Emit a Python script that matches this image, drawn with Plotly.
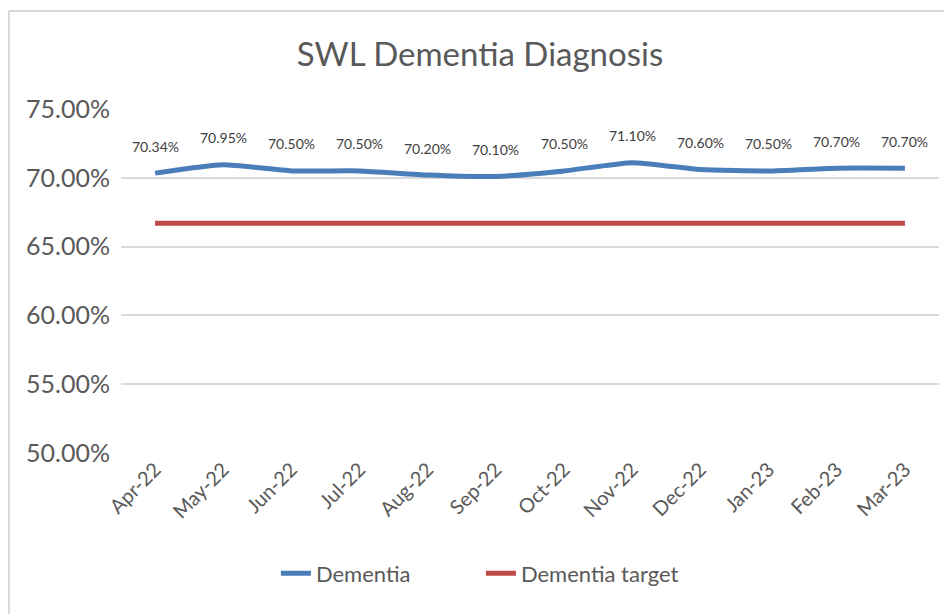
import plotly.graph_objects as go

months = ["Apr-22", "May-22", "Jun-22", "Jul-22", "Aug-22", "Sep-22",
          "Oct-22", "Nov-22", "Dec-22", "Jan-23", "Feb-23", "Mar-23"]
dementia = [0.7034, 0.7095, 0.7050, 0.7050, 0.7020, 0.7010,
            0.7050, 0.7110, 0.7060, 0.7050, 0.7070, 0.7070]
target = [0.667] * 12
y_ticks = [0.50, 0.55, 0.60, 0.65, 0.70, 0.75]

BLUE = "#4A7EBB"
RED = "#BE4B48"
TEXT = "#595959"
FONT = "Lato, 'Open Sans', sans-serif"

fig = go.Figure()
fig.add_trace(go.Scatter(
    x=months, y=dementia, name="Dementia", mode="lines",
    line=dict(color=BLUE, width=5, shape="spline", smoothing=0.5),
))
fig.add_trace(go.Scatter(
    x=months, y=target, name="Dementia target", mode="lines",
    line=dict(color=RED, width=5),
))

# data labels above the Dementia points
for m, v in zip(months, dementia):
    fig.add_annotation(x=m, y=v, text=f"{v * 100:.2f}%", showarrow=False,
                       yshift=27, font=dict(size=14, color="#404040", family=FONT))

# light grey chart border (left and top edges visible)
border = dict(color="#D9D9D9", width=2)
fig.add_shape(type="line", xref="paper", yref="paper",
              x0=-0.137, x1=-0.137, y0=-0.5, y1=1.285, line=border)
fig.add_shape(type="line", xref="paper", yref="paper",
              x0=-0.137, x1=1.05, y0=1.285, y1=1.285, line=border)

# the page body has an 8px margin, so the figure is 8px smaller
fig.update_layout(
    width=944, height=606,
    margin=dict(l=113, r=13, t=101, b=161),
    paper_bgcolor="white", plot_bgcolor="white",
    font=dict(family=FONT, color=TEXT),
    title=dict(text="SWL Dementia Diagnosis", x=0.5, xanchor="center",
               y=0.923, yanchor="middle",
               font=dict(size=33, color=TEXT, family=FONT)),
    xaxis=dict(showgrid=False, showline=False, ticks="", tickangle=-45,
               tickfont=dict(size=20, color=TEXT), range=[-0.5, 11.5]),
    yaxis=dict(range=[0.5, 0.75], tickvals=y_ticks, tickformat=".2%",
               showgrid=True, gridcolor="#D9D9D9", gridwidth=1.5,
               zeroline=False, showline=False, ticks="", ticklabelstandoff=10,
               tickfont=dict(size=25, color=TEXT)),
    legend=dict(orientation="h", x=0.44, xanchor="center", y=-0.35, yanchor="middle",
                font=dict(size=22, color=TEXT), traceorder="normal",
                entrywidth=160, entrywidthmode="pixels"),
    showlegend=True,
)

fig.write_html("out.html")
